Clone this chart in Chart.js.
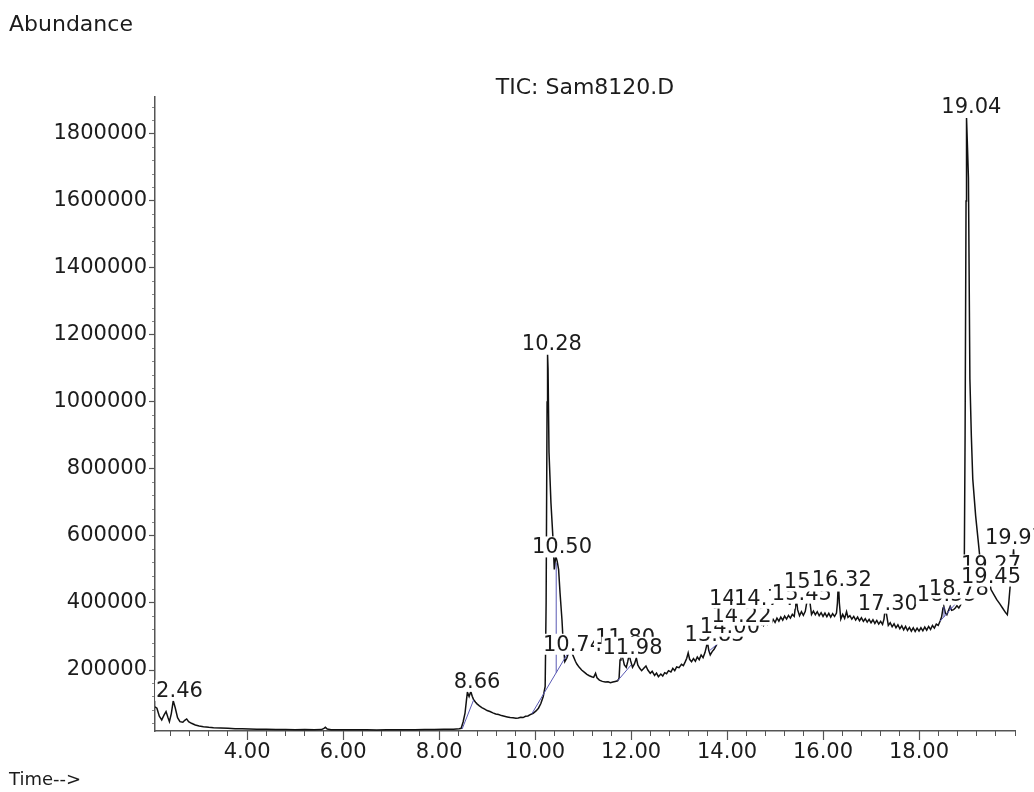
<!DOCTYPE html>
<html><head><meta charset="utf-8">
<script src="https://cdn.jsdelivr.net/npm/chart.js@4.4.1/dist/chart.umd.min.js"></script>
<style>html,body{margin:0;padding:0;background:#fff;}canvas{display:block;}</style>
</head><body>
<canvas id="c" width="1034" height="792" style="width:1034px;height:792px"></canvas>
<script>
// ---- data ----
const retentionTimes = [
2.08,2.12,2.17,2.22,2.27,2.31,2.35,2.38,2.42,2.46,2.50,2.55,2.60,2.66,2.70,2.74,2.78,2.84,2.92,3.00,3.09,3.20,
3.30,3.45,3.60,3.75,3.90,4.05,4.20,4.40,4.60,4.80,5.00,5.20,5.40,5.55,5.60,5.63,5.67,5.75,5.90,6.10,6.30,6.50,6.70,6.90,7.10,7.30,7.50,7.70,7.90,8.10,8.30,8.42,
8.46,8.50,8.54,8.57,8.59,8.625,8.66,8.69,8.72,8.76,8.79,8.84,8.89,8.95,9.00,9.06,9.12,9.18,9.24,9.30,9.36,9.42,9.48,9.54,9.60,9.65,9.70,9.75,9.80,9.85,9.90,9.96,10.02,10.07,10.12,10.17,10.21,
10.23,10.25,10.26,10.27,10.29,10.33,10.37,10.40,10.43,10.46,10.49,10.52,10.56,10.59,10.62,10.66,10.70,10.73,10.77,10.80,10.84,10.87,10.92,10.97,11.03,11.08,11.13,11.18,11.22,11.26,11.29,11.34,11.40,11.46,11.52,11.57,11.62,11.67,11.72,11.75,
11.77,11.79,11.82,11.86,11.90,11.93,11.96,11.99,12.03,12.07,12.11,12.14,12.18,12.22,12.27,12.31,12.35,12.40,12.44,12.49,12.53,12.57,12.62,12.66,12.70,12.74,12.78,12.83,12.87,12.91,12.95,13.00,13.05,13.09,13.13,13.16,13.19,13.22,13.26,13.30,13.34,13.38,13.42,13.46,13.50,13.54,13.57,13.59,13.62,13.65,13.69,13.73,13.77,13.80,13.83,13.85,13.88,13.92,13.96,
14.00,14.03,14.06,14.09,14.13,14.17,14.21,14.25,14.27,14.30,14.34,14.38,14.41,14.44,14.48,14.51,14.55,14.58,14.62,14.66,14.70,14.74,14.76,14.80,14.84,14.88,14.92,14.96,15.00,15.04,15.08,15.12,15.16,15.20,15.24,15.28,15.32,15.36,15.40,15.43,15.45,15.47,15.51,15.55,15.59,15.63,15.66,15.69,15.72,15.76,15.80,15.84,15.88,15.92,15.96,
16.00,16.04,16.08,16.12,16.16,16.20,16.24,16.28,16.30,16.32,16.34,16.37,16.41,16.45,16.49,16.52,16.56,16.60,16.64,16.68,16.72,16.76,16.80,16.84,16.88,16.92,16.96,17.00,17.04,17.08,17.12,17.16,17.20,17.24,17.27,17.30,17.33,17.36,17.40,17.44,17.48,17.52,17.56,17.60,17.64,17.68,17.72,17.76,17.80,17.84,17.88,17.92,17.96,
18.00,18.04,18.08,18.12,18.16,18.20,18.24,18.28,18.32,18.36,18.40,18.44,18.47,18.50,18.52,18.55,18.58,18.62,18.65,18.68,18.72,18.76,18.79,18.83,18.87,18.91,18.94,18.96,18.98,18.99,19.01,19.03,19.06,19.09,19.12,19.18,19.23,19.27,19.33,19.38,19.43,19.47,19.50,19.56,19.62,19.68,19.74,19.80,19.84,19.87,19.90,19.94,19.97,20.00
];
const abundance = [
90000,86000,62000,51000,66000,76000,58000,46000,70000,108000,88000,58000,46000,44000,50000,54000,46000,41000,36000,33000,31000,29000,
28000,27000,26000,25000,24500,24000,23500,23000,22500,22800,22000,22400,21800,22300,26000,29000,24000,22000,21600,21800,21400,21700,21300,21800,21500,22000,21600,22200,22500,23000,23500,24500,
26000,45000,71000,110000,134000,121000,136000,122000,111000,104000,99000,93000,88000,83000,79000,76000,72000,69000,67000,64000,62000,60000,58000,57500,56000,57000,59000,58000,62000,63000,67000,71000,78000,86000,100000,121000,151000,
400000,1000000,1141000,1100000,850000,700000,600000,500000,540000,525000,500000,430000,350000,270000,225000,235000,252000,262000,250000,240000,226000,218000,208000,200000,193000,187000,183000,180000,178000,190000,177000,170000,166000,164000,165000,162000,164000,166000,168000,175000,
230000,255000,240000,215000,208000,225000,245000,228000,208000,218000,236000,215000,205000,198000,206000,212000,200000,190000,196000,184000,191000,180000,188000,182000,192000,189000,198000,194000,205000,198000,209000,207000,217000,213000,225000,235000,251000,232000,225000,234000,226000,239000,231000,245000,237000,252000,270000,285000,258000,245000,255000,262000,272000,280000,288000,295000,284000,282000,285000,
300000,315000,308000,325000,338000,334000,345000,352000,355000,345000,335000,330000,328000,316000,310000,305000,318000,326000,330000,328000,333000,340000,333000,344000,336000,348000,338000,351000,342000,355000,346000,358000,349000,361000,352000,363000,355000,366000,360000,395000,405000,380000,362000,374000,363000,375000,400000,445000,410000,366000,376000,365000,374000,362000,371000,
360000,370000,359000,369000,358000,368000,360000,370000,400000,465000,400000,352000,366000,354000,374000,357000,362000,352000,360000,349000,358000,347000,356000,345000,353000,343000,351000,341000,350000,339000,348000,337000,345000,336000,352000,388000,360000,333000,341000,329000,338000,326000,335000,323000,332000,320000,330000,318000,327000,316000,326000,315000,325000,
316000,326000,317000,328000,319000,330000,321000,333000,325000,337000,333000,346000,358000,385000,388000,370000,365000,380000,390000,378000,380000,386000,392000,385000,395000,405000,430000,900000,1600000,1847000,1760000,1668000,1069000,900000,770000,660000,590000,533000,450000,430000,445000,465000,440000,425000,410000,398000,385000,372000,365000,400000,452000,500000,560000,480000
];
// integration baselines (null separates segments)
const baselineTimes  = [8.48,8.72,null, 9.93,10.73,null, 10.44,10.44,null, 11.72,12.00,null, 13.62,13.90,null, 18.44,18.93,null, 18.52,18.52,null, 18.65,18.65];
const baselineValues = [24000,111000,null, 69000,262000,null, 192000,520000,null, 168000,215000,null, 256000,290000,null, 346000,425000,null, 358000,388000,null, 379000,390000];

// peak labels: text, label centre time, label baseline level (drawn in this order)
const peakLabels      = ["2.46","8.66","10.28","10.50","10.74","11.80","11.98","13.83","14.00","14.22","14.48","14.74","15.45","15.70","16.32","17.30","18.55","18.78","19.04","19.27","19.45","19.97"];
const peakLabelTimes  = [2.59,8.79,10.35,10.56,10.79,11.875,12.03,13.74,14.06,14.30,14.25,14.77,15.56,15.81,16.39,17.35,18.58,18.83,19.09,19.50,19.50,20.00];
const peakLabelLevels = [119800,146700,1155700,547900,257500,278400,248500,287400,311400,344300,395200,395200,410000,446100,452100,380200,407000,425100,1862300,494000,461000,574800];

const xMajorTicks = [4,6,8,10,12,14,16,18];
const yMajorTicks = [200000,400000,600000,800000,1000000,1200000,1400000,1600000,1800000];
const X_MIN = 2.08, X_MAX = 20.0, Y_MIN = 18000, Y_MAX = 1910000;
const xMinorTicks = []; for (let k = 0; k <= 44; k++) xMinorTicks.push(Math.round((2.4 + 0.4*k)*10)/10);
const yMinorTicks = []; for (let k = 1; k <= 47; k++) yMinorTicks.push(40000*k);

const titleText = "TIC: Sam8120.D";
const yCaption = "Abundance";
const xCaption = "Time-->";

const trace = retentionTimes.map((t,i)=>({x:t, y:abundance[i]}));
const baseline = baselineTimes.map((t,i)=>({x:t, y:baselineValues[i]}));

const FONT = '"DejaVu Sans", Verdana, sans-serif';
const AXIS = '#555555';
const INK = '#1c1c1c';

const textPlugin = {
  id: 'peakText',
  afterDatasetsDraw(chart) {
    const {ctx, scales} = chart;
    ctx.save();
    ctx.font = '21px ' + FONT;
    ctx.textAlign = 'center';
    ctx.textBaseline = 'alphabetic';
    peakLabels.forEach((txt, i) => {
      const px = scales.x.getPixelForValue(peakLabelTimes[i]);
      const py = scales.y.getPixelForValue(peakLabelLevels[i]);
      const w = ctx.measureText(txt).width;
      ctx.fillStyle = '#ffffff';
      ctx.fillRect(px - w/2 - 1, py - 17, w + 2, 21);
      ctx.fillStyle = INK;
      ctx.fillText(txt, px, py);
    });
    ctx.restore();
  },
  afterDraw(chart) {
    const {ctx, chartArea} = chart;
    ctx.save();
    ctx.fillStyle = INK;
    ctx.textBaseline = 'alphabetic';
    ctx.textAlign = 'left';
    ctx.font = '22px ' + FONT;
    ctx.fillText(yCaption, 9, 31);
    ctx.font = '18px ' + FONT;
    ctx.fillText(xCaption, 9, 785);
    ctx.textAlign = 'center';
    ctx.font = '22px ' + FONT;
    ctx.fillText(titleText, (chartArea.left + chartArea.right)/2, 94);
    ctx.restore();
  }
};

new Chart(document.getElementById('c'), {
  type: 'line',
  data: { datasets: [
    { data: trace, xAxisID:'x', yAxisID:'y', borderColor:'#111', borderWidth:1.5, pointRadius:0, tension:0, order:1 },
    { data: baseline, xAxisID:'x', yAxisID:'y', borderColor:'#5a5ab4', borderWidth:1, pointRadius:0, tension:0, spanGaps:false, order:0 }
  ]},
  options: {
    responsive:false, animation:false, events:[],
    layout: { padding: { top:97, right:19, left:0, bottom:0 } },
    plugins: { legend:{display:false}, tooltip:{enabled:false}, title:{display:false} },
    scales: {
      xMinor: { type:'linear', position:'bottom', min:X_MIN, max:X_MAX, weight:0,
        afterBuildTicks: s => { s.ticks = xMinorTicks.map(v=>({value:v})); },
        afterFit: s => { s.height = 0; },
        ticks:{display:false},
        grid:{drawOnChartArea:false, drawTicks:true, tickLength:5, tickColor:AXIS, tickWidth:1},
        border:{display:false} },
      x: { type:'linear', position:'bottom', min:X_MIN, max:X_MAX, weight:1,
        afterBuildTicks: s => { s.ticks = xMajorTicks.map(v=>({value:v})); },
        afterFit: s => { s.height = 61; },
        ticks:{ callback: v => Number(v).toFixed(2), autoSkip:false, maxRotation:0, padding:0,
                font:{family:FONT, size:21}, color:INK },
        grid:{drawOnChartArea:false, drawTicks:true, tickLength:9, tickColor:AXIS, tickWidth:1.2},
        border:{display:true, color:AXIS, width:1.5} },
      yMinor: { type:'linear', position:'left', min:Y_MIN, max:Y_MAX, weight:0,
        afterBuildTicks: s => { s.ticks = yMinorTicks.map(v=>({value:v})); },
        afterFit: s => { s.width = 0; },
        ticks:{display:false},
        grid:{drawOnChartArea:false, drawTicks:true, tickLength:3, tickColor:'#888', tickWidth:1},
        border:{display:false} },
      y: { type:'linear', position:'left', min:Y_MIN, max:Y_MAX, weight:1,
        afterBuildTicks: s => { s.ticks = yMajorTicks.map(v=>({value:v})); },
        afterFit: s => { s.width = 155; },
        ticks:{ callback: v => String(v), autoSkip:false, padding:2,
                font:{family:FONT, size:21}, color:INK },
        grid:{drawOnChartArea:false, drawTicks:true, tickLength:6, tickColor:AXIS, tickWidth:1.2},
        border:{display:true, color:AXIS, width:1.5} }
    }
  },
  plugins:[textPlugin]
});
</script>
</body></html>
